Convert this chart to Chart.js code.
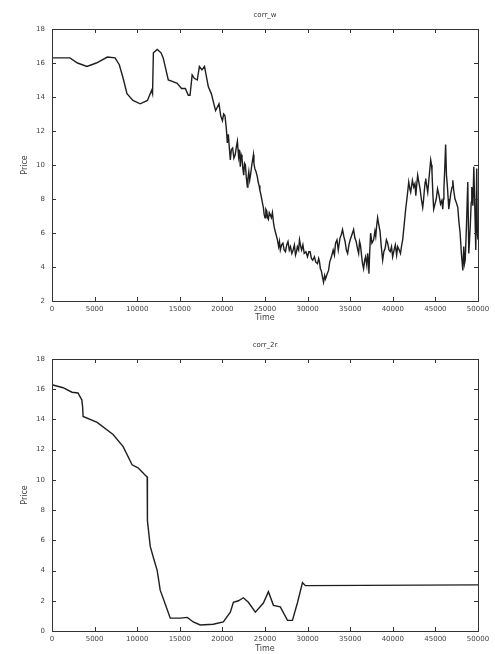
<!DOCTYPE html>
<html>
<head>
<meta charset="utf-8">
<script src="https://cdn.jsdelivr.net/npm/chart.js@4.4.1/dist/chart.umd.min.js"></script>
<style>
  body { margin: 0; background: #fff; }
  canvas { display: block; }
</style>
</head>
<body>
<canvas id="top" width="495" height="327"></canvas>
<canvas id="bottom" width="495" height="327"></canvas>
<script>
// upper panel
const timeW = [0, 1000, 2100, 3000, 4100, 5200, 6500, 7400, 7900, 8350, 8800, 9500, 10350, 11200, 11700, 11800,
  11900, 12350, 12800, 13050, 13650, 14200, 14700, 15200, 15650, 16000, 16200, 16450, 16700, 17050, 17300, 17600,
  17900, 18350, 18700,
  19000, 19200, 19400, 19600, 19800, 20000, 20150, 20300, 20450, 20580,
  20700, 20800, 20930, 21050, 21200, 21350, 21500, 21650, 21760, 21900,
  22000, 22100, 22200, 22300, 22400, 22500, 22600, 22700, 22800, 22930,
  23000, 23100, 23200, 23300, 23450, 23640, 23700, 23800, 23950, 24100,
  24200, 24300, 24400, 24500, 24650, 24810, 24900, 25000, 25100, 25200,
  25300, 25400, 25500, 25600, 25750, 25870, 26000, 26100, 26250, 26460,
  26600, 26700, 26800, 26950, 27100, 27250, 27400, 27550, 27700, 27850,
  27990, 28150, 28300, 28450, 28580, 28700, 28800, 28950, 29050, 29200,
  29300, 29450, 29600, 29800, 29990, 30150, 30300, 30450, 30600, 30800,
  30950, 31160, 31300, 31400, 31500, 31600, 31750, 31870, 32000, 32100,
  32300, 32460, 32600, 32800, 33000, 33150, 33280, 33450, 33600, 33800,
  33950, 34100, 34250, 34400, 34550, 34700, 34850, 35000, 35200, 35400,
  35550, 35700, 35850, 35990, 36100, 36200, 36350, 36450, 36570, 36700,
  36800, 36950, 37050, 37150, 37200, 37300, 37400, 37550, 37750, 37900,
  38000, 38100, 38220, 38350, 38500, 38650, 38810, 38950, 39100, 39250,
  39400, 39550, 39700, 39850, 39980, 40150, 40300, 40450, 40570, 40750,
  40900, 41050, 41160, 41300, 41510, 41700, 41870, 42000, 42100, 42300,
  42460, 42600, 42700, 42800, 42920, 43050, 43200, 43350, 43510, 43600,
  43700, 43800, 43860, 44000, 44100, 44300, 44450, 44550, 44600, 44700,
  44800, 44950, 45100, 45250, 45390, 45500, 45600, 45750, 45860, 45950,
  46000, 46100, 46200, 46300, 46400, 46500, 46570, 46700, 46800, 46950,
  47040, 47150, 47300, 47450, 47630, 47750, 47900, 48050, 48220, 48330,
  48420, 48500, 48650, 48800, 48920, 49000, 49100, 49200, 49270, 49400,
  49510, 49600, 49650, 49740, 49850, 49920, 50000];
const corrW = [16.3, 16.3, 16.3, 16.0, 15.8, 16.0, 16.35, 16.3, 15.9, 15.1, 14.2, 13.8, 13.6, 13.8, 14.4, 14.2,
  16.6, 16.8, 16.6, 16.3, 15.0, 14.9, 14.8, 14.5, 14.5, 14.1, 14.1, 15.3, 15.1, 15.0, 15.8, 15.6,
  15.8, 14.6, 14.2,
  13.6, 13.2, 13.4, 13.6, 12.9, 12.6, 13.0, 12.9, 12.2, 11.3,
  11.8, 11.1, 10.3, 10.9, 11.0, 10.4, 10.6, 11.1, 11.4, 10.5,
  10.9, 9.9, 10.6, 10.4, 9.8, 9.4, 10.1, 10.0, 9.3, 8.7,
  9.2, 9.6, 9.1, 9.4, 10.0, 10.6, 10.1, 9.8, 9.6, 9.3,
  9.0, 8.8, 8.5, 8.3, 7.9, 7.5, 7.1, 6.9, 7.4, 7.3,
  6.9, 6.8, 7.2, 7.1, 6.9, 7.2, 6.6, 6.3, 6.0, 5.6,
  5.2, 5.5, 5.0, 5.3, 5.4, 5.0, 4.9, 5.3, 5.5, 5.0,
  5.2, 4.8, 5.0, 5.3, 4.7, 4.9, 5.2, 5.0, 5.6, 5.2,
  5.0, 5.3, 4.8, 4.9, 4.6, 4.9, 4.9, 4.5, 4.4, 4.6,
  4.3, 4.2, 4.5, 4.3, 3.9, 3.8, 3.4, 3.1, 3.5, 3.3,
  3.6, 3.8, 4.3, 4.6, 5.0, 4.7, 5.4, 5.6, 5.0, 5.7,
  5.9, 6.2, 5.8, 5.5, 5.0, 4.8, 5.3, 5.6, 5.9, 6.2,
  5.7, 5.5, 5.1, 4.8, 5.5, 5.3, 4.6, 4.2, 3.9, 4.4,
  4.6, 4.1, 4.8, 4.3, 3.6, 5.0, 6.0, 5.4, 5.6, 6.1,
  5.8, 6.4, 6.9, 6.5, 6.1, 5.2, 4.4, 4.9, 5.1, 5.6,
  5.4, 5.0, 4.9, 5.2, 4.6, 5.0, 5.3, 4.7, 5.2, 5.0,
  4.8, 5.3, 5.6, 6.3, 7.4, 8.2, 9.0, 8.6, 8.4, 9.1,
  8.7, 8.9, 8.2, 8.8, 9.4, 9.0, 8.6, 8.0, 7.5, 7.9,
  8.5, 9.0, 9.2, 8.7, 8.4, 9.5, 10.3, 10.0, 9.6, 8.3,
  7.4, 7.7, 8.0, 8.6, 8.3, 8.0, 7.7, 7.9, 7.4, 8.0,
  8.6, 9.8, 11.2, 9.4, 8.8, 8.0, 7.4, 7.9, 8.3, 8.7,
  9.1, 8.5, 8.0, 7.8, 7.5, 6.7, 6.0, 4.8, 3.8, 5.2,
  4.2, 4.4, 6.5, 9.0, 4.8, 5.5, 6.5, 7.8, 8.7, 7.6,
  9.9, 8.0, 7.0, 5.0, 9.8, 6.0, 5.6];

// lower panel
const time2r = [0, 100, 1300, 2350, 3050, 3400, 3500, 3600, 3650, 5300, 7170, 8350, 9400, 10100, 10950, 11170,
  11200, 11530, 11880, 12350, 12700, 13530, 13880, 15050, 15880, 16580, 17400, 18930, 20110, 20930, 21290, 21880,
  22460, 23050, 23870, 24810, 25400, 25990, 26800, 27640, 28220, 28800, 29400, 29750, 50000];
const corr2r = [16.3, 16.3, 16.1, 15.8, 15.75, 15.4, 15.3, 14.8, 14.2, 13.8, 13.0, 12.2, 11.0, 10.8, 10.3, 10.2,
  7.3, 5.6, 4.9, 4.0, 2.7, 1.4, 0.85, 0.85, 0.9, 0.6, 0.4, 0.45, 0.6, 1.25, 1.9, 2.0,
  2.2, 1.9, 1.25, 1.85, 2.6, 1.7, 1.6, 0.7, 0.7, 1.85, 3.2, 3.0, 3.05];

const xTicks = [0, 5000, 10000, 15000, 20000, 25000, 30000, 35000, 40000, 45000, 50000];

// box round the plot plus matlab-style inward ticks and a title centred on the plot
const frame = {
  id: 'frame',
  afterDraw(chart, args, opts) {
    const { ctx, chartArea: a, scales: { x, y } } = chart;
    ctx.save();
    ctx.strokeStyle = '#333';
    ctx.lineWidth = 1;
    ctx.strokeRect(a.left + 0.5, a.top + 0.5, a.right - a.left, a.bottom - a.top);
    ctx.beginPath();
    x.ticks.forEach(t => {
      const px = Math.round(x.getPixelForValue(t.value)) + 0.5;
      ctx.moveTo(px, a.bottom); ctx.lineTo(px, a.bottom - 4);
      ctx.moveTo(px, a.top); ctx.lineTo(px, a.top + 4);
    });
    y.ticks.forEach(t => {
      const py = Math.round(y.getPixelForValue(t.value)) + 0.5;
      ctx.moveTo(a.left, py); ctx.lineTo(a.left + 4, py);
      ctx.moveTo(a.right, py); ctx.lineTo(a.right - 4, py);
    });
    ctx.stroke();
    ctx.fillStyle = '#333';
    ctx.font = '7px "DejaVu Sans"';
    ctx.textAlign = 'center';
    ctx.textBaseline = 'middle';
    ctx.fillText(opts.text, (a.left + a.right) / 2, a.top - 14);
    ctx.restore();
  }
};

function drawPanel(canvasId, times, values, title, yMin, top, xTitlePad) {
  const ctx = document.getElementById(canvasId).getContext('2d');
  return new Chart(ctx, {
    type: 'line',
    data: {
      datasets: [{
        data: times.map((t, i) => ({ x: t, y: values[i] })),
        borderColor: '#1e1e1e',
        borderWidth: 1.4,
        pointRadius: 0,
        tension: 0,
      }]
    },
    options: {
      responsive: false,
      animation: false,
      layout: { padding: { top: top, right: 17, left: 0, bottom: 0 } },
      plugins: {
        legend: { display: false },
        tooltip: { enabled: false },
        frame: { text: title }
      },
      scales: {
        x: {
          type: 'linear',
          min: 0,
          max: 50000,
          afterBuildTicks: s => { s.ticks = xTicks.map(v => ({ value: v })); },
          afterFit: s => { s.height = 327 - top - 272; },
          grid: { display: false, drawTicks: false, tickLength: 0 },
          border: { display: false },
          ticks: { color: '#444', font: { size: 7, family: 'DejaVu Sans' }, padding: 4, maxRotation: 0,
            callback: v => String(v) },
          title: { display: true, text: 'Time', color: '#444', font: { size: 8, family: 'DejaVu Sans' },
            padding: { top: 0, bottom: xTitlePad } }
        },
        y: {
          min: yMin,
          max: 18,
          afterFit: s => { s.width = 52; },
          grid: { display: false, drawTicks: false, tickLength: 0 },
          border: { display: false },
          ticks: { stepSize: 2, color: '#444', font: { size: 7, family: 'DejaVu Sans' }, padding: 7 },
          title: { display: true, text: 'Price', color: '#444', font: { size: 8, family: 'DejaVu Sans' },
            padding: { top: 20, bottom: 0 } }
        }
      }
    },
    plugins: [frame]
  });
}

drawPanel('top', timeW, corrW, 'corr_w', 2, 29, 4);
drawPanel('bottom', time2r, corr2r, 'corr_2r', 0, 32, 0);
</script>
</body>
</html>
